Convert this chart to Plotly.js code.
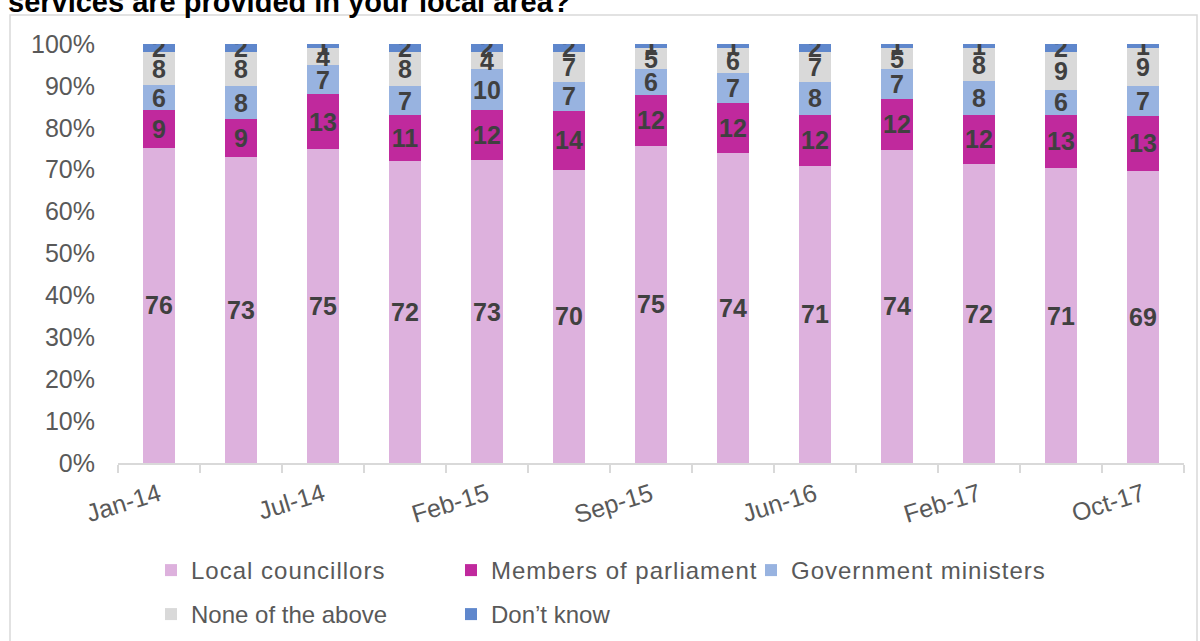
<!DOCTYPE html>
<html>
<head>
<meta charset="utf-8">
<script src="https://cdn.plot.ly/plotly-3.0.1.min.js"></script>
<style>html,body{margin:0;padding:0;background:#fff;} #chart{width:1200px;height:641px;} .legendtext{letter-spacing:1px;}</style>
</head>
<body>
<div id="chart"></div>
<script>
// Survey waves (only every other one is labelled on the axis)
const categories = ["Jan-14","Apr-14","Jul-14","Oct-14","Feb-15","May-15","Sep-15","Feb-16","Jun-16","Oct-16","Feb-17","Jun-17","Oct-17"];
const tickLabels = ["Jan-14","","Jul-14","","Feb-15","","Sep-15","","Jun-16","","Feb-17","","Oct-17"];

const localCouncillors   = [76,73,75,72,73,70,75,74,71,74,72,71,69];
const membersParliament  = [9,9,13,11,12,14,12,12,12,12,12,13,13];
const governmentMinisters= [6,8,7,7,10,7,6,7,8,7,8,6,7];
const noneOfTheAbove     = [8,8,4,8,4,7,5,6,7,5,8,9,9];
const dontKnow           = [2,2,1,2,2,2,1,1,2,1,1,2,1];

const seriesNames  = ["Local councillors","Members of parliament","Government ministers","None of the above","Don’t know"];
const seriesValues = [localCouncillors, membersParliament, governmentMinisters, noneOfTheAbove, dontKnow];
const seriesColors = ["#DDB1DD","#C0299D","#98B3E0","#D9D9D9","#5F87CC"];
const seriesLegend = ["legend","legend","legend","legend2","legend2"];

const FONT = "Liberation Sans, Arial, sans-serif";

const traces = seriesValues.map((vals, i) => ({
  type: "bar",
  name: seriesNames[i],
  x: categories,
  y: vals,
  text: vals.map(String),
  textposition: "inside",
  insidetextanchor: "middle",
  constraintext: "none",
  textangle: 0,
  textfont: {family: FONT, size: 25, color: "#404040", weight: "bold"},
  marker: {color: seriesColors[i], line: {width: 0}},
  legend: seriesLegend[i],
  hoverinfo: "x+y+name"
}));

const L = 118, R = 16, T = 44, B = 178;
const W = 1200, H = 641;
const pw = W - L - R, ph = H - T - B;
const px = v => (v - L) / pw;
const py = v => (H - B - v) / ph;

const layout = {
  width: W, height: H,
  margin: {l: L, r: R, t: T, b: B, pad: 0, autoexpand: false},
  paper_bgcolor: "#ffffff",
  plot_bgcolor: "#ffffff",
  barmode: "stack",
  barnorm: "percent",
  bargap: 0.6,
  font: {family: FONT, color: "#595959", size: 25},
  showlegend: true,
  xaxis: {
    type: "category",
    tickvals: categories,
    ticktext: tickLabels,
    tickangle: -17,
    tickson: "boundaries",
    ticks: "outside",
    ticklen: 8,
    tickcolor: "#D9D9D9",
    tickwidth: 1.5,
    ticklabelstandoff: 6,
    showline: true,
    linecolor: "#D9D9D9",
    linewidth: 1.5,
    showgrid: false,
    zeroline: false,
    automargin: false,
    tickfont: {size: 25, color: "#595959"},
    fixedrange: true
  },
  yaxis: {
    range: [0, 100],
    dtick: 10,
    ticksuffix: "%",
    showgrid: false,
    zeroline: false,
    showline: false,
    ticks: "",
    ticklabelstandoff: 22,
    automargin: false,
    tickfont: {size: 25, color: "#595959"},
    fixedrange: true
  },
  legend: {
    orientation: "h",
    x: px(151), xanchor: "left",
    y: py(548), yanchor: "top",
    entrywidth: 255, entrywidthmode: "pixels",
    font: {size: 24, color: "#595959"},
    traceorder: "normal",
    bgcolor: "rgba(0,0,0,0)"
  },
  legend2: {
    orientation: "h",
    x: px(151), xanchor: "left",
    y: py(592), yanchor: "top",
    entrywidth: 255, entrywidthmode: "pixels",
    font: {size: 24, color: "#595959"},
    traceorder: "normal",
    bgcolor: "rgba(0,0,0,0)"
  },
  shapes: [{
    type: "rect", xref: "paper", yref: "paper",
    x0: px(10), x1: px(1197), y0: py(660), y1: py(15),
    line: {color: "#D9D9D9", width: 1.5}, fillcolor: "rgba(0,0,0,0)", layer: "below"
  }],
  annotations: [{
    xref: "paper", yref: "paper",
    x: px(6), xanchor: "left",
    y: py(2), yanchor: "middle",
    text: "<b>services are provided in your local area?</b>",
    showarrow: false,
    font: {size: 29, color: "#000000", family: FONT}
  }]
};

Plotly.newPlot("chart", traces, layout, {displayModeBar: false, staticPlot: true});
</script>
</body>
</html>
